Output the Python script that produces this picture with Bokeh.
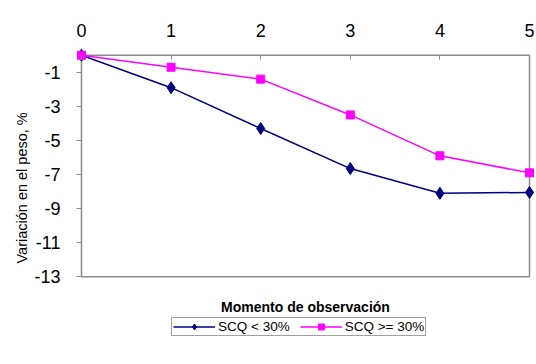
from bokeh.plotting import figure
from bokeh.models import (LinearAxis, FixedTicker, Range1d, Legend, LegendItem,
                          Title, Label, ColumnDataSource)
from bokeh.embed import file_html
from bokeh.resources import INLINE

# Observation moments and weight change (%) for each group
moments = [0, 1, 2, 3, 4, 5]
scq_low = [0.0, -1.9, -4.3, -6.65, -8.1, -8.05]
scq_high = [0.0, -0.7, -1.4, -3.5, -5.9, -6.9]
series_names = ["SCQ < 30%", "SCQ >= 30%"]
y_ticks = [-1, -3, -5, -7, -9, -11, -13]
y_top = 0

FONT = "Liberation Sans"
GRID = "#8c8c8c"

# The frame is padded around the data box so that edge markers are not
# clipped, and extends downward to hold the x title and the legend.
XPAD = 0.078
YPAD_TOP = 0.4
Y_FLOOR = -17.33

p = figure(frame_width=462, frame_height=302, output_backend="svg",
           toolbar_location=None,
           x_range=Range1d(moments[0] - XPAD, moments[-1] + XPAD),
           y_range=Range1d(Y_FLOOR, y_top + YPAD_TOP),
           x_axis_location=None, y_axis_location=None,
           min_border_left=74, min_border_right=0, min_border_top=48,
           min_border_bottom=14)
p.background_fill_color = "white"
p.border_fill_color = "white"
p.outline_line_color = None
p.xgrid.visible = False
p.ygrid.visible = False

xa = LinearAxis(ticker=FixedTicker(ticks=moments))
xa.axis_line_color = None
xa.major_tick_line_color = GRID
xa.major_tick_line_width = 1
xa.major_tick_in = 11
xa.major_tick_out = -7
xa.minor_tick_line_color = None
xa.major_label_text_font = FONT
xa.major_label_text_font_size = "18px"
xa.major_label_text_color = "black"
xa.major_label_standoff = 12
p.add_layout(xa, "above")

ya = LinearAxis(ticker=FixedTicker(ticks=y_ticks))
ya.axis_line_color = None
ya.major_tick_line_color = GRID
ya.major_tick_line_width = 1
ya.major_tick_in = 7
ya.major_tick_out = -2
ya.minor_tick_line_color = None
ya.major_label_overrides = {t: str(t) for t in y_ticks}
ya.major_label_text_font = FONT
ya.major_label_text_font_size = "18px"
ya.major_label_text_color = "black"
ya.major_label_standoff = 14
p.add_layout(ya, "left")

ytitle = Title(text="Variación en el peso, %", align="left", offset=87,
               text_font=FONT, text_font_size="14.5px",
               text_font_style="normal", text_color="black", standoff=4)
p.add_layout(ytitle, "left")

# plot box: top edge is the category axis line
p.quad(left=[moments[0]], right=[moments[-1]], top=[y_top],
       bottom=[y_ticks[-1]], fill_color=None, line_color=GRID, line_width=1.5)

src = ColumnDataSource(dict(x=moments, low=scq_low, high=scq_high))

l1 = p.line("x", "low", source=src, line_color="#000080", line_width=1.5)
m1 = p.scatter("x", "low", source=src, marker="diamond", size=12,
               fill_color="#000080", line_color="#000080")
l2 = p.line("x", "high", source=src, line_color="#ff00ff", line_width=1.5)
m2 = p.scatter("x", "high", source=src, marker="square", size=8,
               fill_color="#ff00ff", line_color="#ff00ff")

xtitle = Label(x=(moments[0] + moments[-1]) / 2, y=-14.75,
               text="Momento de observación", text_align="center",
               text_baseline="middle", text_font=FONT,
               text_font_size="14px", text_font_style="bold",
               text_color="black")
p.add_layout(xtitle)

legend = Legend(items=[LegendItem(label=series_names[0], renderers=[l1, m1]),
                       LegendItem(label=series_names[1], renderers=[l2, m2])],
                orientation="horizontal", location=(97, 14))
legend.label_text_font = FONT
legend.label_text_font_size = "13.5px"
legend.label_text_color = "black"
legend.border_line_color = "#444444"
legend.border_line_width = 1
legend.background_fill_color = "white"
legend.glyph_width = 42
legend.glyph_height = 15
legend.label_standoff = 3
legend.spacing = 10
legend.padding = 1
legend.margin = 0
legend.label_height = 12
p.add_layout(legend, "center")

open("out.html", "w").write(file_html(p, INLINE))
